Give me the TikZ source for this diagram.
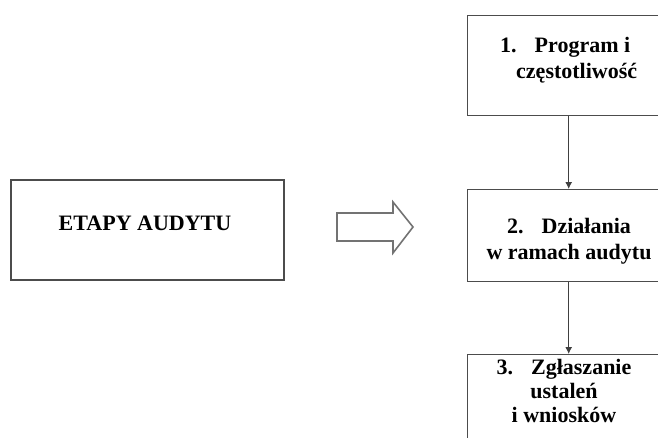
\documentclass[tikz,border=0pt]{standalone}
\usepackage{fontspec}
\setmainfont{Liberation Serif}
\usetikzlibrary{arrows.meta}
\begin{document}
\begin{tikzpicture}[x=1pt,y=-1pt,
  boxst/.style={draw=black!70,line width=1.4pt,fill=white},
  lbl/.style={font=\bfseries\fontsize{22}{26}\selectfont,inner sep=0pt,align=center,anchor=base},
  conn/.style={draw=black!75,line width=1pt,-{Latex[length=7pt,width=7pt]}},
  blockarrow/.style={draw=black!55,line width=1.6pt,line join=miter,fill=white}]
\path[use as bounding box] (0,0) rectangle (658,437);
\clip (0,0) rectangle (658,437);
% left box
\path[boxst] (11,180) rectangle (284,280);
\node[lbl] (etapy) at (145,230) {ETAPY AUDYTU};
% block arrow
\path[blockarrow] (337,213) -- (393,213) -- (393,202) -- (413,227) -- (393,253) -- (393,241) -- (337,241) -- cycle;
% right boxes
\node[boxst,minimum width=202pt,minimum height=100pt,anchor=north west,inner sep=0pt] (b1) at (467,15) {};
\node[boxst,minimum width=202pt,minimum height=92pt,anchor=north west,inner sep=0pt] (b2) at (467,189) {};
\node[boxst,minimum width=202pt,minimum height=110pt,anchor=north west,inner sep=0pt] (b3) at (467,354) {};
\node[lbl,align=left,anchor=base west] (t1) at (500,78) {1.\hspace{18pt}Program i\\\hspace*{16pt}częstotliwość};
\node[lbl] (t2) at (569,259) {2.\hspace{18pt}Działania\\w ramach audytu};
\node[lbl,font=\bfseries\fontsize{22}{24}\selectfont] (t3) at (564,422) {3.\hspace{18pt}Zgłaszanie\\ustaleń\\i wniosków};
\draw[conn] (b1.south) -- (b2.north);
\draw[conn] (b2.south) -- (b3.north);
\end{tikzpicture}
\end{document}
